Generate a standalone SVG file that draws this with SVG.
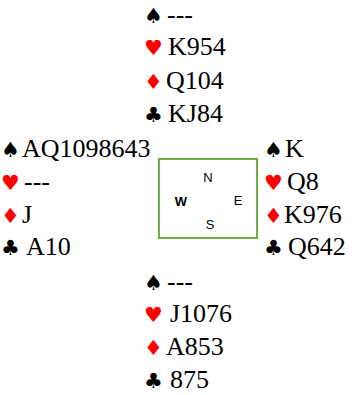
<svg xmlns="http://www.w3.org/2000/svg" width="355" height="395" viewBox="0 0 355 395">
<style>
text.h{font-family:'Liberation Serif','Times New Roman',serif;font-size:26px;fill:#000}
text.s{font-family:'DejaVu Sans',sans-serif;font-size:21px}
.b{fill:#000}.r{fill:#ff0000}
text.c{font-family:'Liberation Sans',Arial,sans-serif;font-size:13px;fill:#000}
</style>
<rect width="355" height="395" fill="#fff"/>
<g id="north">
<text class="s b" x="144" y="23">♠</text><text class="h" x="167" y="23">---</text>
<text class="s r" x="144" y="55">♥</text><text class="h" x="168" y="55">K954</text>
<text class="s r" x="144" y="89">♦</text><text class="h" x="166" y="89">Q104</text>
<text class="s b" x="144" y="122">♣</text><text class="h" x="168" y="122">KJ84</text>
</g>
<g id="west">
<text class="s b" x="1" y="157">♠</text><text class="h" x="22" y="157">AQ1098643</text>
<text class="s r" x="1" y="190">♥</text><text class="h" x="24" y="190">---</text>
<text class="s r" x="1" y="223">♦</text><text class="h" x="22" y="223">J</text>
<text class="s b" x="1" y="255">♣</text><text class="h" x="26" y="255">A10</text>
</g>
<g id="east">
<text class="s b" x="264" y="157">♠</text><text class="h" x="285" y="157">K</text>
<text class="s r" x="264" y="190">♥</text><text class="h" x="287" y="190">Q8</text>
<text class="s r" x="264" y="223">♦</text><text class="h" x="284" y="223">K976</text>
<text class="s b" x="264" y="255">♣</text><text class="h" x="288" y="255">Q642</text>
</g>
<g id="south">
<text class="s b" x="144" y="290">♠</text><text class="h" x="167" y="290">---</text>
<text class="s r" x="144" y="322">♥</text><text class="h" x="170" y="322">J1076</text>
<text class="s r" x="144" y="355">♦</text><text class="h" x="166" y="355">A853</text>
<text class="s b" x="144" y="388">♣</text><text class="h" x="170" y="388">875</text>
</g>
<g id="compass">
<rect x="159" y="159" width="98" height="79" fill="none" stroke="#70AD47" stroke-width="2"/>
<text class="c" x="208" y="182" text-anchor="middle">N</text>
<text class="c" x="181" y="206" text-anchor="middle" font-weight="bold">W</text>
<text class="c" x="238" y="205" text-anchor="middle">E</text>
<text class="c" x="210" y="229" text-anchor="middle">S</text>
</g>
<g id="connectors"/>
</svg>
